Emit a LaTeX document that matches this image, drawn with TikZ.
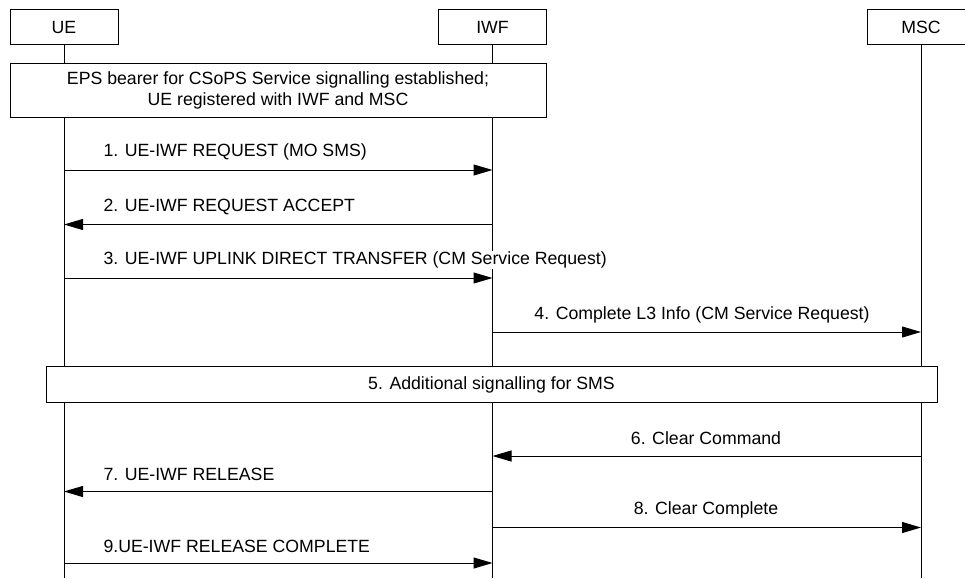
\documentclass[tikz,border=0pt]{standalone}
\usepackage{fontspec}
\setmainfont{Liberation Sans}
\usetikzlibrary{arrows.meta}
\begin{document}
\begin{tikzpicture}[x=1pt,y=-1pt,line width=1pt,
  every node/.style={font=\fontsize{17.7}{20}\selectfont, inner sep=0pt},
  entity/.style={draw, minimum width=108pt, minimum height=35pt, fill=white},
  lifeline/.style={draw},
  msg/.style={draw, -{Triangle[length=19pt,width=11pt]}},
  note/.style={draw, fill=white, align=center},
  lbl/.style={anchor=west, fill=white, inner sep=1pt},
  clbl/.style={anchor=center, fill=white, inner sep=1pt}]
\useasboundingbox (0,0) rectangle (965,578);

% lifelines (drawn first so boxes and labels sit over them)
\coordinate (ue-bot) at (64,578);
\coordinate (iwf-bot) at (492,578);
\coordinate (msc-bot) at (921,578);
\coordinate (ue-top) at (64,27.5);
\coordinate (iwf-top) at (492,27.5);
\coordinate (msc-top) at (921,27.5);
\draw[lifeline] (ue-top) -- (ue-bot);
\draw[lifeline] (iwf-top) -- (iwf-bot);
\draw[lifeline] (msc-top) -- (msc-bot);

% entities
\node[entity] (ue) at (64,27.5) {UE};
\node[entity] (iwf) at (492.5,27.5) {IWF};
\begin{scope}
  \clip (0,0) rectangle (965,578);
  \node[entity] (msc) at (921,27.5) {MSC};
\end{scope}

% precondition box
\node[note, minimum width=536pt, minimum height=54pt] (pre) at (278,90)
  {EPS bearer for CSoPS Service signalling established;\\[1pt] UE registered with IWF and MSC};

% messages
\draw[msg] (ue |- 0,170) -- (iwf |- 0,170);
\node[lbl] (l1) at (102,151.5) {1. UE-IWF REQUEST (MO SMS)};

\draw[msg] (iwf |- 0,224.5) -- (ue |- 0,224.5);
\node[lbl] (l2) at (102,207) {2. UE-IWF REQUEST ACCEPT};

\draw[msg] (ue |- 0,278) -- (iwf |- 0,278);
\node[lbl] (l3) at (102,260) {3. UE-IWF UPLINK DIRECT TRANSFER (CM Service Request)};

\draw[msg] (iwf |- 0,332) -- (msc |- 0,332);
\node[clbl] (l4) at (702,314.5) {4. Complete L3 Info (CM Service Request)};

\node[note, minimum width=891pt, minimum height=36pt] (add) at (491.5,384.5)
  {5. Additional signalling for SMS};

\draw[msg] (msc |- 0,456) -- (iwf |- 0,456);
\node[clbl] (l6) at (706,438.5) {6. Clear Command};

\draw[msg] (iwf |- 0,491.5) -- (ue |- 0,491.5);
\node[lbl] (l7) at (102,474.5) {7. UE-IWF RELEASE};

\draw[msg] (iwf |- 0,527.5) -- (msc |- 0,527.5);
\node[clbl] (l8) at (706,510) {8. Clear Complete};

\draw[msg] (ue |- 0,563) -- (iwf |- 0,563);
\node[lbl] (l9) at (102,546.5) {9.UE-IWF RELEASE COMPLETE};
\end{tikzpicture}
\end{document}
